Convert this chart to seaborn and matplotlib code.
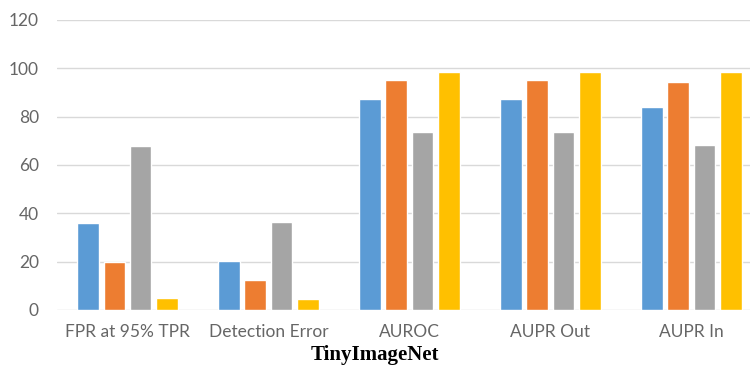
import matplotlib
matplotlib.use("Agg")
import matplotlib.pyplot as plt
import seaborn as sns
import pandas as pd

categories = ["FPR at 95% TPR", "Detection Error", "AUROC", "AUPR Out", "AUPR In"]
series_names = ["S1", "S2", "S3", "S4"]
s1 = [36.0, 20.3, 87.3, 87.3, 84.0]
s2 = [19.8, 12.2, 95.2, 95.2, 94.3]
s3 = [68.0, 36.2, 73.6, 73.6, 68.4]
s4 = [5.0, 4.6, 98.5, 98.5, 98.5]
yticks = [0, 20, 40, 60, 80, 100, 120]
title = "TinyImageNet"

colors = ["#5B9BD5", "#ED7D31", "#A5A5A5", "#FFC000"]

rows = []
for name, vals in zip(series_names, [s1, s2, s3, s4]):
    for c, v in zip(categories, vals):
        rows.append({"metric": c, "series": name, "value": v})
df = pd.DataFrame(rows)

sns.set_style("white")
plt.rcParams['font.family'] = ['Lato', 'DejaVu Sans']

fig = plt.figure(figsize=(7.5, 3.69), dpi=100)
ax = fig.add_axes([0.076, 0.16, 0.924, 0.786])
sns.barplot(data=df, x="metric", y="value", hue="series", order=categories,
            hue_order=series_names, palette=colors, width=0.74, gap=0.16,
            saturation=1, legend=False, ax=ax, zorder=3)

ax.set_ylim(0, 120)
ax.set_yticks(yticks)
ax.set_xlim(-0.5, 4.415)
ax.grid(axis="y", color="#D9D9D9", linewidth=1, zorder=0)
ax.set_axisbelow(True)
for sp in ax.spines.values():
    sp.set_visible(False)
ax.tick_params(axis="both", length=0, labelsize=12.5, labelcolor="#666666")
ax.tick_params(axis="y", pad=13)
ax.tick_params(axis="x", pad=10)
ax.set_xlabel("")
ax.set_ylabel("")
fig.text(0.5, 0.012, title, ha="center", va="bottom", fontsize=15,
         fontweight="bold", family=["Liberation Serif"], color="black")

fig.savefig("out.png", dpi=100)
